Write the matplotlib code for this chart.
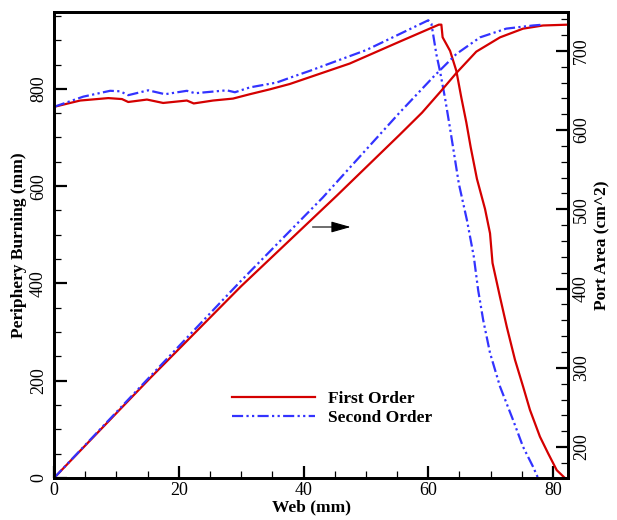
import matplotlib
matplotlib.use("Agg")
import matplotlib.pyplot as plt
from matplotlib.ticker import MultipleLocator

plt.rcParams['font.family'] = ['Liberation Serif', 'DejaVu Serif']

# periphery burning (left axis, mm)
web_per_1 = [0, 4.2, 8.7, 10.9, 11.9, 14.9, 17.5, 21.3, 22.4, 25.5, 28.7, 31.4, 34.6,
             37.8, 41, 47.4, 55.4, 61.7, 62.1, 62.3, 63.5, 64.5, 65.3, 66.1, 66.8, 67.8,
             69.1, 69.9, 70.3, 71.5, 72.6, 73.9, 75.2, 76.3, 77.9, 79.2, 80.6, 81.9]
per_1 = [763, 776, 781, 779, 773, 778, 771, 776, 770, 776, 780, 789, 799,
         810, 824, 852, 897, 932, 932, 906, 878, 837, 782, 731, 680, 615,
         553, 503, 442, 372, 310, 243, 188, 140, 85, 51, 16, 0]

web_per_2 = [0, 4.7, 9, 10.6, 11.9, 15.1, 17.8, 21.3, 22.6, 27.7, 29, 31.4, 35.7,
             38.3, 41, 50.1, 60, 60.5, 61.3, 61.9, 62.7, 63.5, 64.9, 66.2, 67.3,
             68, 68.8, 69.9, 71.5, 73.6, 75.2, 76.8, 77.6]
per_2 = [763, 784, 796, 795, 787, 797, 789, 796, 791, 797, 793, 803, 813,
         825, 837, 880, 941, 934, 871, 835, 780, 718, 605, 530, 455,
         386, 325, 257, 188, 119, 64, 23, 0]

# port area (right axis, cm^2)
web_port_1 = [0, 15.4, 30, 45.3, 55.4, 59, 61.9, 64.5, 67.7, 71.5, 75.2, 78.4, 82.3]
port_1 = [161, 287, 403, 517, 594, 622, 648, 672, 699, 717, 728, 732, 733]

web_port_2 = [0, 15.4, 30, 43.1, 55.4, 60.8, 64.5, 68.3, 72.5, 76.8, 78.4]
port_2 = [161, 289, 410, 515, 622, 667, 696, 717, 728, 732, 733]

red = '#d40000'
blue = '#3333ff'
dashdotdot = (0, (5, 1.5, 1, 1.5, 1, 1.5))

fig = plt.figure(figsize=(6.17, 5.2), dpi=100)
ax = fig.add_axes([54 / 617, 1 - 478 / 520, 514 / 617, 466 / 520])
ax2 = ax.twinx()

ax.plot(web_per_1, per_1, color=red, lw=1.6, label='First Order')
ax.plot(web_per_2, per_2, color=blue, lw=1.6, ls=dashdotdot, label='Second Order')
ax2.plot(web_port_1, port_1, color=red, lw=1.6)
ax2.plot(web_port_2, port_2, color=blue, lw=1.6, ls=dashdotdot)

ax.set_xlim(0, 82.4)
ax.set_ylim(0, 958)
ax2.set_ylim(161, 749)

ax.xaxis.set_major_locator(MultipleLocator(20))
ax.xaxis.set_minor_locator(MultipleLocator(5))
ax.yaxis.set_major_locator(MultipleLocator(200))
ax.yaxis.set_minor_locator(MultipleLocator(50))
ax2.yaxis.set_major_locator(MultipleLocator(100))
ax2.yaxis.set_minor_locator(MultipleLocator(20))

for a in (ax, ax2):
    a.tick_params(which='major', direction='in', length=9, width=1.6, labelsize=13)
    a.tick_params(which='minor', direction='in', length=5, width=0.9)
    for s in a.spines.values():
        s.set_linewidth(2)
ax.tick_params(top=False, which='both')
ax.tick_params(axis='x', pad=3)
ax.tick_params(axis='y', pad=5)
for lab in ax.get_yticklabels() + ax2.get_yticklabels():
    lab.set_rotation(90)
    lab.set_va('center')

ax.set_xlabel('Web (mm)', fontsize=12.5, fontweight='bold', labelpad=0)
ax.set_ylabel('Periphery Burning (mm)', fontsize=12.5, fontweight='bold', labelpad=2)
ax2.set_ylabel('Port Area (cm^2)', fontsize=12.5, fontweight='bold', labelpad=3)

ax.annotate('', xy=(48, 516), xytext=(41, 516),
            arrowprops=dict(arrowstyle='-|>,head_length=0.6,head_width=0.17',
                            color='black', lw=0.8, mutation_scale=20))

leg = ax.legend(loc='center left', bbox_to_anchor=(232 / 617, 1 - 408.5 / 520),
                bbox_transform=fig.transFigure, frameon=False, borderpad=0,
                borderaxespad=0, handlelength=4.8, handletextpad=0.75,
                labelspacing=0.2, prop={'size': 12.5, 'weight': 'bold'})

fig.savefig('out.png', dpi=100)
